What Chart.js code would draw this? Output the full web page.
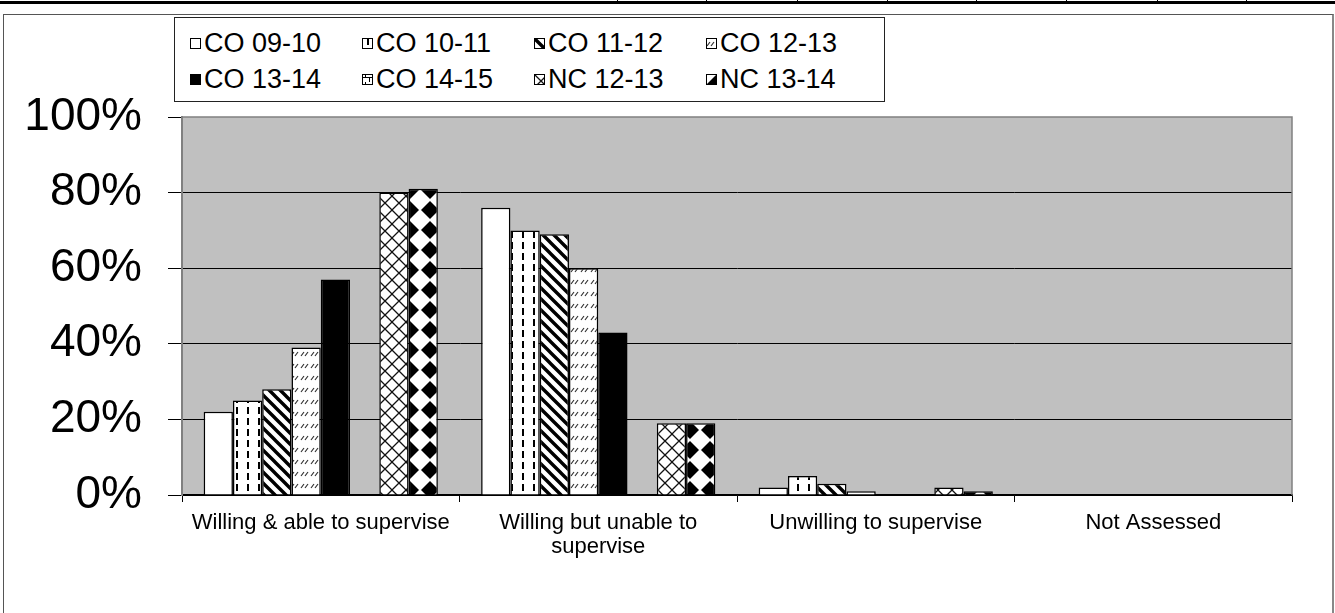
<!DOCTYPE html>
<html>
<head>
<meta charset="utf-8">
<script src="https://cdn.jsdelivr.net/npm/chart.js@4/dist/chart.umd.min.js"></script>
<style>
  html, body { margin:0; padding:0; background:#fff; }
  body { width:1335px; height:613px; position:relative; overflow:hidden; font-family:"Liberation Sans", Arial, sans-serif; }
  #wrap { position:absolute; left:0; top:0; width:1335px; height:613px; }
  #topline { position:absolute; left:0; top:1px; width:1335px; height:3px; background:#000; }
  .vt { position:absolute; top:0; width:1px; height:3px; background:#000; }
  #outer { position:absolute; left:3px; top:14px; width:1328px; height:640px; border:1px solid #555; border-right:2px solid #888; }
  #legend { position:absolute; left:174px; top:17px; width:711px; height:85px; border:1px solid #222; box-sizing:border-box; background:#fff; }
  .item { position:absolute; display:flex; align-items:center; font-size:27px; color:#000; white-space:nowrap; line-height:1; }
  .item canvas { width:11px; height:11px; margin-right:3px; display:block; }
</style>
</head>
<body>
<div id="topline"></div>
<div id="outer"></div>
<div id="wrap"><canvas id="c" width="1335" height="613"></canvas></div>
<div id="legend"></div>
<script>
// ---- data ----
const categories = ['Willing & able to supervise', 'Willing but unable to supervise', 'Unwilling to supervise', 'Not Assessed'];
const categoryTickLines = [['Willing & able to supervise'], ['Willing but unable to', 'supervise'], ['Unwilling to supervise'], ['Not Assessed']];
const seriesNames = ['CO 09-10', 'CO 10-11', 'CO 11-12', 'CO 12-13', 'CO 13-14', 'CO 14-15', 'NC 12-13', 'NC 13-14'];
const co0910 = [22, 76, 2, 0];
const co1011 = [25, 70, 5, 0];
const co1112 = [28, 69, 3, 0];
const co1213 = [39, 60, 1, 0];
const co1314 = [57, 43, 0, 0];
const co1415 = [0, 0, 0, 0];
const nc1213 = [80, 19, 2, 0];
const nc1314 = [81, 19, 1, 0];
const yTickValues = [0, 20, 40, 60, 80, 100];

// ---- top table rule decoration ----
[617, 706, 797, 887, 976, 1066, 1157, 1246].forEach(x => {
  const d = document.createElement('div'); d.className = 'vt'; d.style.left = x + 'px'; document.body.appendChild(d);
});

// ---- patterns ----
function tile(w, h, draw) {
  const c = document.createElement('canvas'); c.width = w; c.height = h;
  const x = c.getContext('2d');
  x.fillStyle = '#fff'; x.fillRect(0, 0, w, h);
  draw(x, w, h);
  return c;
}
const tiles = [
  tile(8, 8, () => {}),
  tile(11, 11, (x) => { x.fillStyle = '#000'; x.fillRect(5, 0, 2, 7); }),
  tile(11, 11, (x, s) => {
    x.strokeStyle = '#000'; x.lineWidth = 3.4; x.beginPath();
    x.moveTo(-2, -2); x.lineTo(s + 2, s + 2);
    x.moveTo(-s - 2, -2); x.lineTo(2, s + 2);
    x.moveTo(s - 2, -2); x.lineTo(2 * s + 2, s + 2);
    x.stroke();
  }),
  tile(10, 12, (x) => {
    x.strokeStyle = '#333'; x.lineWidth = 1.2; x.beginPath();
    x.moveTo(1, 8); x.lineTo(4, 4);
    x.moveTo(5, 8); x.lineTo(8, 4);
    x.stroke();
  }),
  tile(8, 8, (x) => { x.fillStyle = '#000'; x.fillRect(0, 0, 8, 8); }),
  tile(8, 8, (x) => { x.fillStyle = '#000'; x.fillRect(0, 3, 8, 1); x.fillRect(3, 0, 1, 3); x.fillRect(7, 4, 1, 4); }),
  tile(14, 14, (x, s) => {
    x.strokeStyle = '#111'; x.lineWidth = 1.3; x.beginPath();
    x.moveTo(0, 0); x.lineTo(s, s);
    x.moveTo(s, 0); x.lineTo(0, s);
    x.stroke();
  }),
  tile(20, 20, (x) => {
    x.fillStyle = '#000'; x.beginPath();
    x.moveTo(10, 1); x.lineTo(19, 10); x.lineTo(10, 19); x.lineTo(1, 10); x.closePath(); x.fill();
  })
];
const ctx = document.getElementById('c').getContext('2d');
const fills = tiles.map(t => ctx.createPattern(t, 'repeat'));
const seriesData = [co0910, co1011, co1112, co1213, co1314, co1415, nc1213, nc1314];

// ---- HTML legend ----
const legend = document.getElementById('legend');
const colX = [15, 187, 359, 531];
const rowY = [26, 62];
seriesNames.forEach((name, i) => {
  const it = document.createElement('div'); it.className = 'item';
  it.style.left = colX[i % 4] + 'px'; it.style.top = (rowY[Math.floor(i / 4)] - 14) + 'px';
  const sw = document.createElement('canvas'); sw.width = 11; sw.height = 11;
  const sx = sw.getContext('2d');
  sx.fillStyle = sx.createPattern(tiles[i], 'repeat'); sx.fillRect(0, 0, 11, 11);
  sx.strokeStyle = '#000'; sx.lineWidth = 1; sx.strokeRect(0.5, 0.5, 10, 10);
  it.appendChild(sw);
  const sp = document.createElement('span'); sp.textContent = name; it.appendChild(sp);
  legend.appendChild(it);
});

// ---- plot background plugin ----
const plotBg = {
  id: 'plotBg',
  beforeDraw(chart) {
    const a = chart.chartArea, c = chart.ctx;
    c.save(); c.fillStyle = '#C0C0C0'; c.fillRect(a.left, a.top, a.right - a.left, a.bottom - a.top); c.restore();
  },
  afterDraw(chart) {
    const a = chart.chartArea, c = chart.ctx;
    c.save(); c.strokeStyle = '#808080'; c.lineWidth = 1.5;
    c.beginPath(); c.moveTo(a.left, a.top); c.lineTo(a.right, a.top); c.lineTo(a.right, a.bottom); c.stroke();
    c.restore();
  }
};

const FONT = '"Liberation Sans", Arial, sans-serif';
new Chart(ctx, {
  type: 'bar',
  data: {
    labels: categoryTickLines,
    datasets: seriesNames.map((n, i) => ({
      label: n,
      data: seriesData[i],
      backgroundColor: fills[i],
      borderColor: '#000',
      borderWidth: 1.5,
      categoryPercentage: 0.844,
      barPercentage: 1.0
    }))
  },
  options: {
    responsive: false,
    animation: false,
    events: [],
    layout: { padding: { left: 0, right: 43, top: 117, bottom: 0 } },
    plugins: { legend: { display: false }, tooltip: { enabled: false } },
    scales: {
      x: {
        grid: { offset: true, drawOnChartArea: false, drawTicks: true, tickLength: 7, color: '#000', lineWidth: 1 },
        border: { color: '#000', width: 1.5 },
        ticks: { color: '#000', font: { family: FONT, size: 22, lineHeight: 1.1 }, padding: 9, maxRotation: 0, autoSkip: false },
        afterFit(s) { s.height = 118; }
      },
      y: {
        min: 0, max: 100,
        afterBuildTicks(s) { s.ticks = yTickValues.map(v => ({ value: v })); },
        grid: {
          color: (c) => (c.tick && c.tick.value === 100) ? 'rgba(0,0,0,0)' : '#000',
          tickColor: '#000', tickLength: 14, lineWidth: 1
        },
        border: { color: '#808080', width: 2 },
        ticks: { color: '#000', font: { family: FONT, size: 46 }, padding: 26, callback: v => v + '%' },
        afterFit(s) { s.width = 182; }
      }
    }
  },
  plugins: [plotBg]
});
</script>
</body>
</html>
